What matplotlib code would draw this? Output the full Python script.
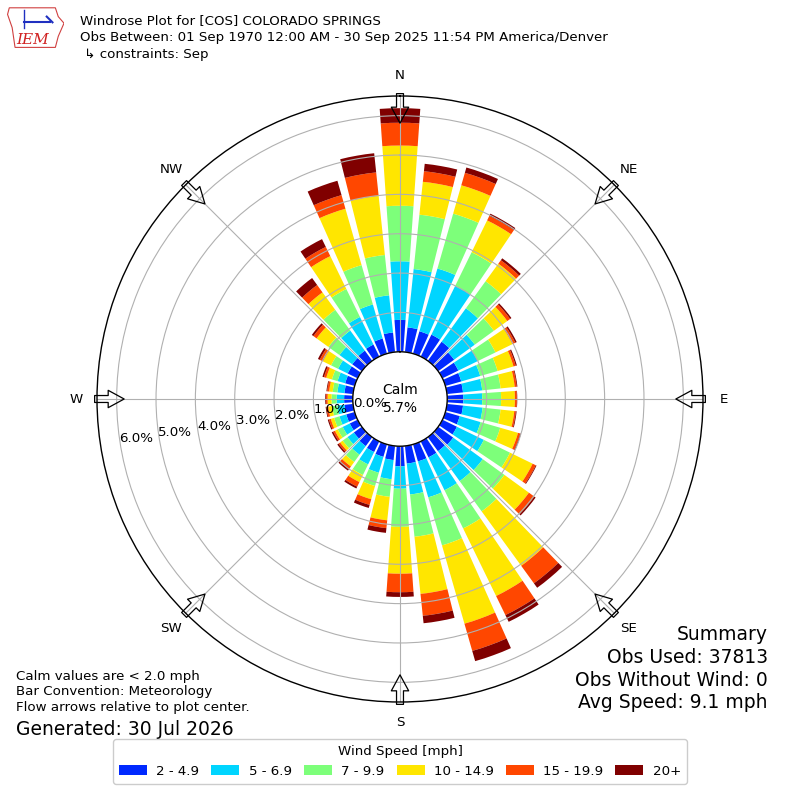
import numpy as np
import matplotlib
matplotlib.use("Agg")
import matplotlib.pyplot as plt
from matplotlib.patches import Polygon

# ── data (percent of observations, 10 degree bins, meteorological) ───────────
directions = list(range(0, 360, 10))
speed_bins = ["2 - 4.9", "5 - 6.9", "7 - 9.9", "10 - 14.9", "15 - 19.9", "20+"]

pct_2_5 = [0.81, 0.63, 0.59, 0.62, 0.60, 0.50, 0.45, 0.42, 0.41, 0.41, 0.41, 0.38,
           0.41, 0.47, 0.44, 0.45, 0.45, 0.45, 0.51, 0.36, 0.33, 0.30, 0.28, 0.25,
           0.22, 0.22, 0.22, 0.22, 0.22, 0.25, 0.28, 0.30, 0.32, 0.34, 0.40, 0.50]
pct_5_7 = [1.49, 1.49, 1.66, 1.38, 1.05, 0.65, 0.55, 0.50, 0.49, 0.48, 0.50, 0.55,
           0.76, 0.93, 0.94, 0.93, 0.95, 0.79, 0.57, 0.49, 0.42, 0.35, 0.27, 0.20,
           0.20, 0.18, 0.18, 0.19, 0.18, 0.20, 0.27, 0.40, 0.63, 0.78, 0.90, 0.95]
pct_7_10 = [1.41, 1.39, 1.45, 0.95, 0.85, 0.60, 0.50, 0.46, 0.47, 0.48, 0.46, 0.52,
            0.74, 0.68, 0.95, 1.08, 1.27, 1.08, 0.97, 0.45, 0.35, 0.30, 0.23, 0.15,
            0.14, 0.14, 0.13, 0.13, 0.12, 0.15, 0.20, 0.35, 0.65, 0.79, 1.04, 1.03]
pct_10_15 = [1.53, 0.84, 0.75, 0.90, 0.55, 0.42, 0.48, 0.42, 0.36, 0.35, 0.35, 0.47,
             0.64, 0.77, 1.71, 1.91, 2.07, 1.46, 1.19, 0.60, 0.35, 0.20, 0.14, 0.08,
             0.08, 0.09, 0.10, 0.10, 0.09, 0.15, 0.23, 0.37, 0.55, 0.93, 1.49, 1.51]
pct_15_20 = [0.58, 0.27, 0.33, 0.13, 0.11, 0.09, 0.08, 0.06, 0.05, 0.05, 0.04, 0.06,
             0.09, 0.17, 0.55, 0.54, 0.72, 0.56, 0.47, 0.20, 0.15, 0.13, 0.08, 0.05,
             0.05, 0.05, 0.05, 0.04, 0.05, 0.06, 0.09, 0.10, 0.23, 0.26, 0.36, 0.60]
pct_20up = [0.37, 0.19, 0.14, 0.06, 0.06, 0.04, 0.04, 0.03, 0.02, 0.01, 0.02, 0.02,
            0.02, 0.04, 0.14, 0.19, 0.27, 0.19, 0.12, 0.12, 0.08, 0.05, 0.05, 0.04,
            0.04, 0.03, 0.02, 0.02, 0.02, 0.04, 0.05, 0.05, 0.22, 0.22, 0.38, 0.49]
series = [pct_2_5, pct_5_7, pct_7_10, pct_10_15, pct_15_20, pct_20up]

calm_pct = 5.7
rings = [0, 1, 2, 3, 4, 5, 6]
compass = ["N", "NE", "E", "SE", "S", "SW", "W", "NW"]

title = ("Windrose Plot for [COS] COLORADO SPRINGS\n"
         "Obs Between: 01 Sep 1970 12:00 AM - 30 Sep 2025 11:54 PM America/Denver\n"
         " \u21b3 constraints: Sep")
notes = "Calm values are < 2.0 mph\nBar Convention: Meteorology\nFlow arrows relative to plot center."
generated = "Generated: 30 Jul 2026"
summary = "Summary\nObs Used: 37813\nObs Without Wind: 0\nAvg Speed: 9.1 mph"

FS = 9.6
colors = plt.cm.jet(np.linspace(0, 1, 7))[1:]

# ── layout ───────────────────────────────────────────────────────────────────
fig = plt.figure(figsize=(8, 8), dpi=100)
ax = fig.add_axes([0.12125, 0.1225, 0.7575, 0.7575], projection="polar")
ax.set_theta_zero_location("N")
ax.set_theta_direction(-1)
ax.set_rorigin(-1.2)
ax.set_ylim(0, 6.5)

theta = np.deg2rad(directions)
width = np.deg2rad(8)
bottom = np.zeros(len(directions))
handles = []
for vals, col, lab in zip(series, colors, speed_bins):
    vals = np.array(vals)
    h = ax.bar(theta, vals, width=width, bottom=bottom, color=col,
               edgecolor="none", linewidth=0, label=lab)
    handles.append(h)
    bottom = bottom + vals

ax.set_rgrids(rings, labels=[""] * len(rings))
ax.set_thetagrids(range(0, 360, 45), labels=[""] * 8)
ax.grid(True, color="#b0b0b0", linewidth=0.8)
ax.spines["polar"].set_linewidth(1.0)
ax.spines["inner"].set_linewidth(1.0)

# radial labels
for r in rings:
    ax.text(np.deg2rad(261.5), r - 0.42, f"{r:.1f}%", ha="center", va="center",
            fontsize=FS, clip_on=False, zorder=6)

# compass labels and flow arrows
for i, lab in enumerate(compass):
    th = np.deg2rad(i * 45)
    ax.text(th, 7.03, lab, ha="center", va="center", fontsize=FS, clip_on=False)
    ax.annotate("", xy=(th, 5.81), xytext=(th, 6.56), annotation_clip=False,
                arrowprops=dict(arrowstyle="simple,head_length=1.15,head_width=1.25,tail_width=0.5",
                                fc="none", ec="black", lw=0.9, mutation_scale=10,
                                shrinkA=0, shrinkB=0), zorder=7)

ax.text(0, -1.2, f"Calm\n{calm_pct:.1f}%", ha="center", va="center",
        fontsize=10, linespacing=1.3, zorder=6)

# ── texts ────────────────────────────────────────────────────────────────────
fig.text(0.1, 0.983, title, ha="left", va="top", fontsize=FS, linespacing=1.42)
fig.text(0.02, 0.163, notes, ha="left", va="top", fontsize=FS, linespacing=1.28)
fig.text(0.02, 0.076, generated, ha="left", va="bottom", fontsize=13.5)
fig.text(0.96, 0.219, summary, ha="right", va="top", fontsize=13.5, linespacing=1.26)

leg = fig.legend(handles, speed_bins, loc="lower center", bbox_to_anchor=(0.5, 0.012),
                 ncol=6, fontsize=FS, title="Wind Speed [mph]", title_fontsize=FS,
                 columnspacing=0.9, handletextpad=0.7, handlelength=2.1,
                 borderpad=0.45, framealpha=1)
leg.get_frame().set_edgecolor("#cccccc")

# ── IEM logo (rough) ─────────────────────────────────────────────────────────
lax = fig.add_axes([0.008, 0.938, 0.072, 0.055])
lax.set_xlim(0, 1)
lax.set_ylim(0, 1)
lax.axis("off")
lax.add_patch(Polygon([[0.05, 0.95], [0.85, 0.95], [0.9, 0.75], [1.0, 0.6], [0.9, 0.3],
                       [0.85, 0.05], [0.15, 0.05], [0.1, 0.5], [0.02, 0.8]],
                      closed=True, fill=False, ec="#d04040", lw=0.8))
lax.plot([0.3, 0.75], [0.62, 0.62], color="#2030c0", lw=1.5)
lax.plot([0.7, 0.8], [0.75, 0.62], color="#2030c0", lw=1.5)
lax.plot([0.3, 0.3], [0.5, 0.9], color="#2030c0", lw=1)
lax.text(0.45, 0.05, "IEM", color="#d02020", fontsize=11, family="DejaVu Serif",
         style="italic", ha="center", va="bottom")

fig.savefig("out.png", dpi=100)
